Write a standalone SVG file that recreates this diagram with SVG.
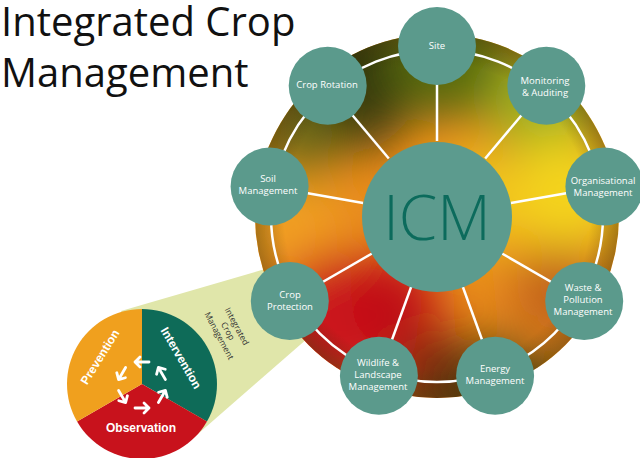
<svg xmlns="http://www.w3.org/2000/svg" width="640" height="458" viewBox="0 0 640 458">
<defs>
<style>
.title{font-family:"Open Sans","Liberation Sans",sans-serif;font-size:40px;fill:#111}
.sat{fill:#5b9a8c}
.lbl{font-family:"Open Sans","Liberation Sans",sans-serif;font-size:9.5px;fill:#fff;text-anchor:middle}
.pie{font-family:"Liberation Sans",Arial,sans-serif;font-size:12px;font-weight:bold;fill:#fff;text-anchor:middle}
.wt{font-family:"Open Sans","Liberation Sans",sans-serif;font-size:8.5px;fill:#333;text-anchor:middle}
.ln{stroke:#fff;stroke-width:2.5;fill:none}
.arr{stroke:#fff;stroke-width:2.8;fill:none;stroke-linecap:round;stroke-linejoin:round}
</style>
<clipPath id="dc"><circle cx="437" cy="216" r="182"/></clipPath>
<filter id="bl" x="-50%" y="-50%" width="200%" height="200%"><feGaussianBlur stdDeviation="24"/></filter>
<radialGradient id="rim" cx="437" cy="216" r="182" gradientUnits="userSpaceOnUse">
<stop offset="0.84" stop-color="#2a2a05" stop-opacity="0"/>
<stop offset="1" stop-color="#2a2a05" stop-opacity="0.35"/>
</radialGradient>
<path id="ar" d="M-7,0 H7 M2,-5 L7,0 L2,5"/>
</defs>
<rect width="640" height="458" fill="#fff"/>
<g id="title">
<text class="title" x="1" y="36">Integrated Crop</text>
<text class="title" x="1" y="87">Management</text>
</g>
<g id="wedge">
<polygon points="121,311 279,265 316,331 191,440" fill="#e0e6aa"/>
<g transform="translate(228,331) rotate(62)">
<text class="wt" x="0" y="-7">Integrated</text>
<text class="wt" x="0" y="3">Crop</text>
<text class="wt" x="0" y="13">Management</text>
</g>
</g>
<g id="disk">
<circle cx="437" cy="216" r="182" fill="#e88a1c"/>
<g clip-path="url(#dc)">
<g filter="url(#bl)">
<circle cx="350" cy="80" r="70" fill="#34380a"/>
<circle cx="450" cy="60" r="60" fill="#566a10"/>
<circle cx="545" cy="105" r="55" fill="#9cb022"/>
<circle cx="565" cy="195" r="60" fill="#f4d41c"/>
<circle cx="480" cy="200" r="50" fill="#f2c41c"/>
<circle cx="290" cy="230" r="55" fill="#f2a020"/>
<circle cx="340" cy="320" r="70" fill="#cc121a"/>
<circle cx="395" cy="300" r="45" fill="#c01016"/>
<circle cx="440" cy="378" r="45" fill="#6e260c"/>
<circle cx="500" cy="385" r="45" fill="#4a4410"/>
<circle cx="560" cy="290" r="45" fill="#c0601a"/>
<circle cx="300" cy="140" r="40" fill="#6a6a12"/>
</g>
<circle cx="437" cy="216" r="182" fill="url(#rim)"/>
</g>
</g>
<g id="connectors">
<circle class="ln" cx="437" cy="216" r="166"/>
<line class="ln" x1="437" y1="141" x2="437" y2="46"/>
<line class="ln" x1="485.2" y1="158.5" x2="546.3" y2="85.8"/>
<line class="ln" x1="510.9" y1="203" x2="604.4" y2="186.5"/>
<line class="ln" x1="502" y1="253.5" x2="584.2" y2="301"/>
<line class="ln" x1="462.7" y1="286.5" x2="495.1" y2="375.7"/>
<line class="ln" x1="411.3" y1="286.5" x2="378.9" y2="375.7"/>
<line class="ln" x1="372" y1="253.5" x2="289.8" y2="301"/>
<line class="ln" x1="363.1" y1="203" x2="269.6" y2="186.5"/>
<line class="ln" x1="388.8" y1="158.5" x2="327.7" y2="85.8"/>
</g>
<g id="icm">
<circle cx="437" cy="217" r="75" fill="#5c9b8e"/>
<text x="437" y="240" font-family="'Open Sans','Liberation Sans',sans-serif" font-size="62" font-weight="300" fill="#0c6b5c" text-anchor="middle">ICM</text>
</g>
<g id="site"><circle class="sat" cx="437" cy="46" r="39"/><text class="lbl" x="437" y="49">Site</text></g>
<g id="monitoring"><circle class="sat" cx="546.3" cy="85.8" r="39"/><text class="lbl" x="545" y="83.5">Monitoring</text><text class="lbl" x="545" y="95.5">&amp; Auditing</text></g>
<g id="organisational"><circle class="sat" cx="604.4" cy="186.5" r="39"/><text class="lbl" x="603" y="183.5">Organisational</text><text class="lbl" x="603" y="195.5">Management</text></g>
<g id="waste"><circle class="sat" cx="584.2" cy="301" r="39"/><text class="lbl" x="583" y="290.5">Waste &amp;</text><text class="lbl" x="583" y="302.5">Pollution</text><text class="lbl" x="583" y="314.5">Management</text></g>
<g id="energy"><circle class="sat" cx="495.1" cy="375.7" r="39"/><text class="lbl" x="495" y="371.5">Energy</text><text class="lbl" x="495" y="383.5">Management</text></g>
<g id="wildlife"><circle class="sat" cx="378.9" cy="375.7" r="39"/><text class="lbl" x="378" y="365.5">Wildlife &amp;</text><text class="lbl" x="378" y="377.5">Landscape</text><text class="lbl" x="378" y="389.5">Management</text></g>
<g id="crop-protection"><circle class="sat" cx="289.8" cy="301" r="39"/><text class="lbl" x="290" y="297.5">Crop</text><text class="lbl" x="290" y="309.5">Protection</text></g>
<g id="soil"><circle class="sat" cx="269.6" cy="186.5" r="39"/><text class="lbl" x="268" y="181.5">Soil</text><text class="lbl" x="268" y="193.5">Management</text></g>
<g id="crop-rotation"><circle class="sat" cx="327.7" cy="85.8" r="39"/><text class="lbl" x="327" y="87.5">Crop Rotation</text></g>
<g id="cycle">
<path d="M142,384 L142,309 A75,75 0 0 1 206.95,421.5 Z" fill="#0e6b58"/>
<path d="M142,384 L206.95,421.5 A75,75 0 0 1 77.05,421.5 Z" fill="#c8121c"/>
<path d="M142,384 L77.05,421.5 A75,75 0 0 1 142,309 Z" fill="#f0a01e"/>
<text class="pie" transform="translate(100,357) rotate(-58)" y="4">Prevention</text>
<text class="pie" transform="translate(181,358) rotate(60)" y="4">Intervention</text>
<text class="pie" x="141" y="432">Observation</text>
<use href="#ar" class="arr" transform="translate(142,362) rotate(-180)"/>
<use href="#ar" class="arr" transform="translate(161.9,373.5) rotate(-120)"/>
<use href="#ar" class="arr" transform="translate(161.9,396.5) rotate(-60)"/>
<use href="#ar" class="arr" transform="translate(142,408)"/>
<use href="#ar" class="arr" transform="translate(122.1,396.5) rotate(60)"/>
<use href="#ar" class="arr" transform="translate(122.1,373.5) rotate(120)"/>
</g>
</svg>
